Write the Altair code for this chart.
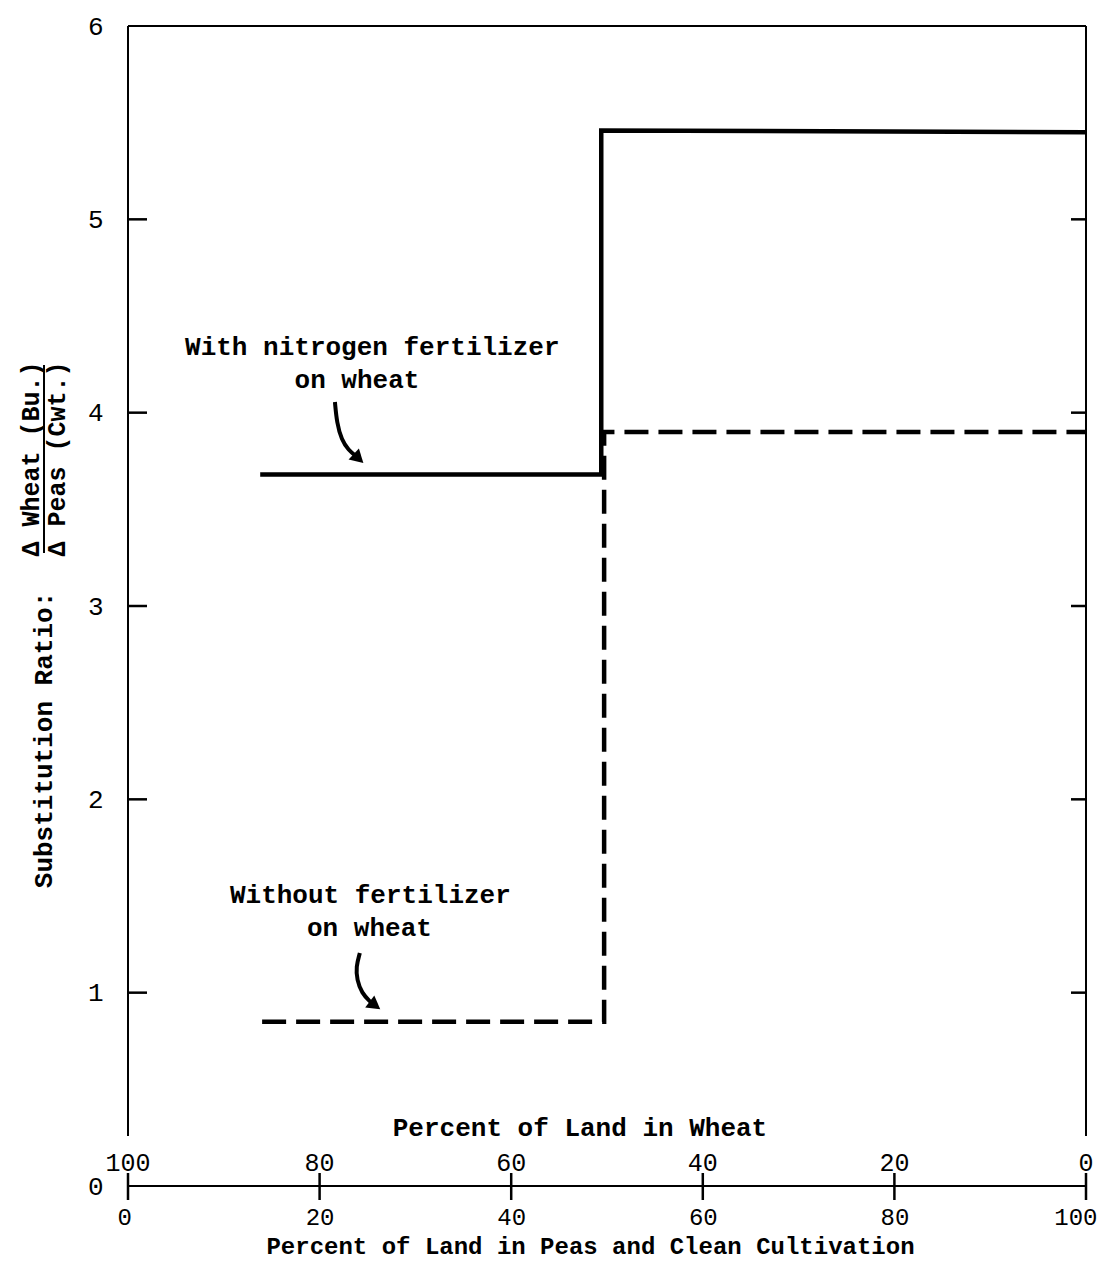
import altair as alt
import pandas as pd

TYPE_FONT = "Liberation Mono"

# ---- data ----
# x: percent of land in peas and clean cultivation, y: substitution ratio
with_n_x = [13.8, 49.4, 49.4, 100.0]
with_n_y = [3.68, 3.68, 5.46, 5.45]
without_x = [14.0, 49.7, 49.7, 100.0]
without_y = [0.85, 0.85, 3.90, 3.90]

# annotation arrows (curved pointers)
arrow_with_x = [21.6, 21.8, 22.3, 23.0, 23.9]
arrow_with_y = [4.055, 3.947, 3.859, 3.807, 3.771]
arrow_without_x = [24.2, 23.8, 23.9, 24.4, 25.3, 25.6]
arrow_without_y = [1.205, 1.133, 1.066, 0.998, 0.952, 0.941]
head_angle = [133, 127]

label_lines = ["With nitrogen fertilizer", "on wheat", "Without fertilizer", "on wheat"]
label_x = [25.5, 23.9, 25.3, 25.2]
label_y = [4.34, 4.17, 1.505, 1.335]

x_tick_values = [0, 20, 40, 60, 80, 100]
peas_tick_labels = ["0", "20", "40", "60", "80", "100"]
wheat_tick_labels = ["100", "80", "60", "40", "20", "0"]
y_tick_values = [0, 1, 2, 3, 4, 5, 6]
y_inner_ticks = [1, 2, 3, 4, 5]
x_domain = [0, 100]
y_domain = [0, 6]

x_title_bottom = "Percent of Land in Peas and Clean Cultivation"
x_title_top = "Percent of Land in Wheat"
y_title = "Substitution Ratio:"
y_title_num = "Δ Wheat (Bu.)"
y_title_den = "Δ Peas (Cwt.)"

W, H = 958, 1160

xscale = alt.Scale(domain=x_domain, nice=False, zero=False)
yscale = alt.Scale(domain=y_domain, nice=False, zero=False)
xaxis = alt.Axis(values=x_tick_values, domain=False, ticks=False, grid=False,
                 labelPadding=31, labelBaseline="middle", labelFlush=True, labelFlushOffset=11,
                 labelFontSize=24,
                 title=x_title_bottom, titleFontSize=24,
                 titleX=462, titleAlign="center",
                 titleY=67, titleBaseline="alphabetic")
yaxis = alt.Axis(values=y_tick_values, domain=False, ticks=False, grid=False,
                 labelPadding=25, labelBaseline="middle", title=None)


def X(f="x"):
    return alt.X(f"{f}:Q", scale=xscale, axis=xaxis)


def Y(f="y"):
    return alt.Y(f"{f}:Q", scale=yscale, axis=yaxis)


# series lines
df_with = pd.DataFrame({"x": with_n_x, "y": with_n_y, "o": range(len(with_n_x))})
df_without = pd.DataFrame({"x": without_x, "y": without_y, "o": range(len(without_x))})

solid = alt.Chart(df_with).mark_line(color="black", strokeWidth=4.5, strokeJoin="miter").encode(
    x=X(), y=Y(), order="o:Q")
dashed = alt.Chart(df_without).mark_line(color="black", strokeWidth=4.5, strokeDash=[24, 10],
                                         strokeJoin="miter").encode(
    x=X(), y=Y(), order="o:Q")

# arrows
df_arrows = pd.DataFrame({
    "x": arrow_with_x + arrow_without_x,
    "y": arrow_with_y + arrow_without_y,
    "a": ["with"] * len(arrow_with_x) + ["without"] * len(arrow_without_x),
    "o": list(range(len(arrow_with_x))) + list(range(len(arrow_without_x))),
})
arrows = alt.Chart(df_arrows).mark_line(color="black", strokeWidth=4, interpolate="basis").encode(
    x=X(), y=Y(), detail="a:N", order="o:Q")
df_heads = pd.DataFrame({"x": [arrow_with_x[-1], arrow_without_x[-1]],
                         "y": [arrow_with_y[-1], arrow_without_y[-1]],
                         "ang": head_angle})
heads = alt.Chart(df_heads).mark_point(shape="triangle", filled=True, color="black", size=230,
                                       opacity=1).encode(
    x=X(), y=Y(), angle=alt.Angle("ang:Q", scale=None))

df_labels = pd.DataFrame({"x": label_x, "y": label_y, "t": label_lines})
labels = alt.Chart(df_labels).mark_text(font=TYPE_FONT, fontSize=26, fontWeight="bold",
                                        color="black", align="center", baseline="middle").encode(
    x=X(), y=Y(), text="t:N")

# frame
df_top = pd.DataFrame({"x": [x_domain[0]], "x2": [x_domain[1]], "y": [y_domain[1]]})
frame_top = alt.Chart(df_top).mark_rule(color="black", strokeWidth=2).encode(
    x=X(), x2="x2:Q", y=Y())
df_bot = pd.DataFrame({"x": [x_domain[0]], "x2": [x_domain[1]], "y": [y_domain[0]]})
frame_bot = alt.Chart(df_bot).mark_rule(color="black", strokeWidth=2).encode(
    x=X(), x2="x2:Q", y=Y())
df_sides = pd.DataFrame({"x": x_domain})
frame_sides = alt.Chart(df_sides).mark_rule(color="black", strokeWidth=2).encode(
    x=X(), y=alt.value(0), y2=alt.value(H - 50))

# ticks
df_yt = pd.DataFrame({"y": y_inner_ticks})
yt_left = alt.Chart(df_yt).mark_rule(color="black", strokeWidth=2.5).encode(
    y=Y(), x=alt.value(0), x2=alt.value(19))
yt_right = alt.Chart(df_yt).mark_rule(color="black", strokeWidth=2.5).encode(
    y=Y(), x=alt.value(W - 15), x2=alt.value(W))
df_xt = pd.DataFrame({"x": x_tick_values})
xt = alt.Chart(df_xt).mark_rule(color="black", strokeWidth=2.5).encode(
    x=X(), y=alt.value(H - 13), y2=alt.value(H + 14))

# top (wheat) scale labels
df_wheat = pd.DataFrame({"x": x_tick_values, "y": [0] * len(x_tick_values), "t": wheat_tick_labels})
wheat_lbl = alt.Chart(df_wheat).mark_text(font=TYPE_FONT, fontSize=25, color="black",
                                          align="center", baseline="middle", dy=-23).encode(
    x=X(), y=Y(), text="t:N")

one = pd.DataFrame({"k": [0]})
top_title = alt.Chart(one).mark_text(font=TYPE_FONT, fontSize=26, fontWeight="bold", color="black",
                                     align="center", baseline="middle", text=x_title_top).encode(
    x=alt.value(452), y=alt.value(1102))
ytitle = alt.Chart(one).mark_text(font=TYPE_FONT, fontSize=26, fontWeight="bold", color="black",
                                  align="center", baseline="middle", angle=270, text=y_title).encode(
    x=alt.value(-84), y=alt.value(714))
ynum = alt.Chart(one).mark_text(font=TYPE_FONT, fontSize=25, fontWeight="bold", color="black",
                                align="center", baseline="middle", angle=270, text=y_title_num).encode(
    x=alt.value(-97), y=alt.value(433))
yden = alt.Chart(one).mark_text(font=TYPE_FONT, fontSize=25, fontWeight="bold", color="black",
                                align="center", baseline="middle", angle=270, text=y_title_den).encode(
    x=alt.value(-71), y=alt.value(433))
ybar = alt.Chart(one).mark_rule(color="black", strokeWidth=2).encode(
    x=alt.value(-84), y=alt.value(339), y2=alt.value(527))

chart = alt.layer(
    frame_top, frame_bot, frame_sides, yt_left, yt_right, xt,
    solid, dashed, arrows, heads, labels, wheat_lbl,
    top_title, ytitle, ynum, yden, ybar,
).properties(
    width=W, height=H,
    padding={"left": 120, "top": 18, "right": 13, "bottom": 75},
    autosize=alt.AutoSizeParams(type="none"),
    background="white",
).configure_view(stroke=None).configure_axis(
    labelFont=TYPE_FONT, labelFontSize=26, labelColor="black",
    titleFont=TYPE_FONT, titleFontSize=26, titleFontWeight="bold", titleColor="black",
)

chart.save("out.html", embed_options={"renderer": "svg", "actions": False})
